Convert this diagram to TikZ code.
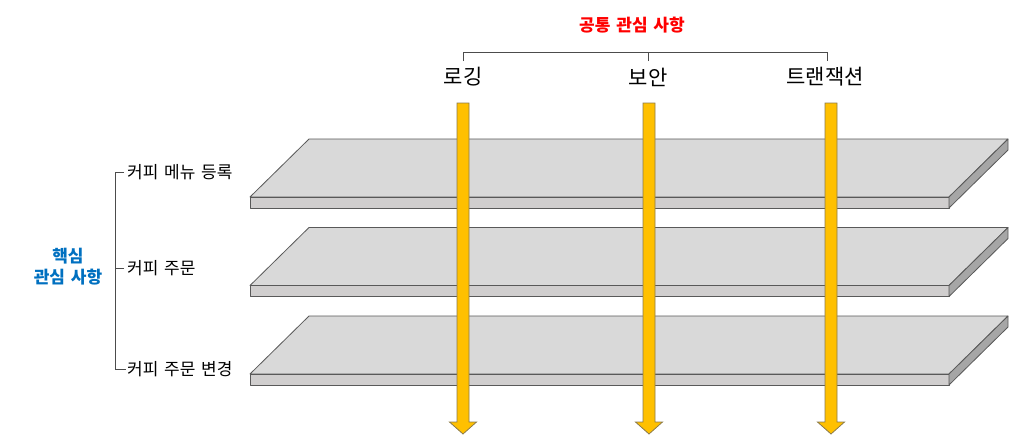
\documentclass[tikz,border=0pt]{standalone}
\usepackage{fontspec}
\setmainfont{Noto Sans CJK KR}[WordSpace=1.5]
\definecolor{slabtop}{HTML}{D9D9D9}
\definecolor{slabfront}{HTML}{D0CECE}
\definecolor{slabside}{HTML}{A6A6A6}
\definecolor{arrowfill}{HTML}{FFC000}
\definecolor{arrowline}{HTML}{8C7B4A}
\definecolor{corecol}{HTML}{0070C0}
\tikzset{
  slab/.style={draw=black!65, line width=.8pt, line join=round},
  flow/.style={fill=arrowfill, draw=arrowline, line width=.8pt},
  bracket/.style={draw=black!70, line width=.8pt},
  aspect/.style={font=\fontsize{21}{25}\selectfont, inner sep=1pt},
  concern/.style={font=\fontsize{17}{20}\selectfont, anchor=west, inner sep=1pt},
  heading/.style={font=\fontsize{17}{21}\selectfont\bfseries},
}
\begin{document}
\begin{tikzpicture}[x=1pt, y=-1pt]
\useasboundingbox (0,0) rectangle (1035,447);
% layers of the core
\foreach \y in {0,88.5,177}{
  \draw[slab, fill=slabtop](250,197+\y)--(309,139+\y)--(1008,139+\y)--(949,197+\y)--cycle;
  \draw[slab, fill=slabfront](250,197+\y) rectangle (949,208+\y);
  \draw[slab, fill=slabside](949,197+\y)--(1008,139+\y)--(1008,150+\y)--(949,208+\y)--cycle;
}
% crosscutting arrows
\foreach \x in {463,649,831}{
  \draw[flow](\x-6,103)--(\x+6,103)--(\x+6,422)--(\x+13.5,422)--(\x,434)--(\x-13.5,422)--(\x-6,422)--cycle;
}
% common concerns
\node[aspect] (log) at (463,77) {로깅};
\node[aspect] (sec) at (648,77) {보안};
\node[aspect] (tx) at (825,77) {트랜잭션};
\node[heading, text=red] (common) at (632,25) {공통 관심 사항};
\coordinate (tl) at (463,61);
\coordinate (tm) at (648,61);
\coordinate (tr) at (827,61);
\draw[bracket](tl)--++(0,-9)-|(tr);
\draw[bracket](tm)--++(0,-9);
% core concerns
\node[concern] (menu) at (126,172) {커피 메뉴 등록};
\node[concern] (order) at (126,268) {커피 주문};
\node[concern] (change) at (126,369) {커피 주문 변경};
\node[heading, text=corecol, align=center] (core) at (68,267) {핵심\\관심 사항};
\draw[bracket, shorten <=2pt](menu.west)--++(-11,0)|-(change.west);
\draw[bracket, shorten <=2pt](order.west)--++(-11,0);
\end{tikzpicture}
\end{document}
